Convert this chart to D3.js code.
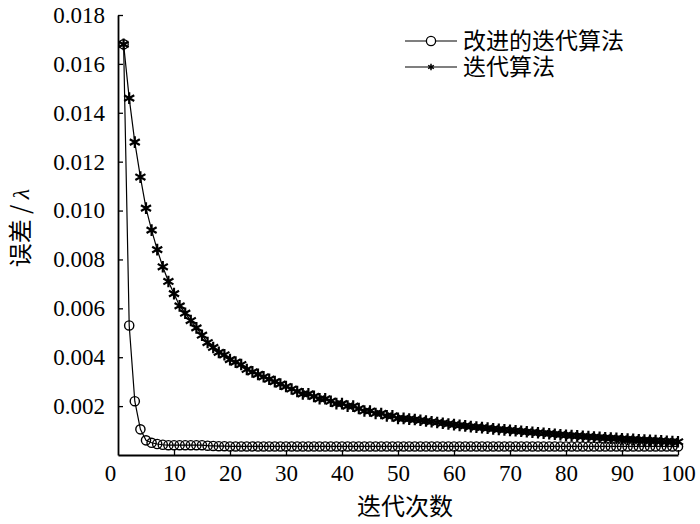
<!DOCTYPE html>
<html>
<head>
<meta charset="utf-8">
<script src="https://cdn.jsdelivr.net/npm/d3@7"></script>
<style>
  body { margin: 0; background: #fff; }
  svg { display: block; }
</style>
</head>
<body>
<div id="chart"></div>
<script>
// iteration numbers 1..100
var iterations = [
  1,2,3,4,5,6,7,8,9,10,11,12,13,14,15,16,17,18,19,20,
  21,22,23,24,25,26,27,28,29,30,31,32,33,34,35,36,37,38,39,40,
  41,42,43,44,45,46,47,48,49,50,51,52,53,54,55,56,57,58,59,60,
  61,62,63,64,65,66,67,68,69,70,71,72,73,74,75,76,77,78,79,80,
  81,82,83,84,85,86,87,88,89,90,91,92,93,94,95,96,97,98,99,100
];

// 改进的迭代算法 (circles)
var improvedErr = [
  0.0168,0.0053,0.0022,0.00105,0.0006,0.0005,0.00045,0.00042,0.0004,0.0004,
  0.0004,0.0004,0.0004,0.0004,0.0004,0.00038,0.00037,0.00036,0.00036,0.00035,
  0.00035,0.00035,0.00035,0.00035,0.00035,0.00035,0.00035,0.00035,0.00035,0.00035,
  0.00035,0.00035,0.00035,0.00035,0.00035,0.00035,0.00035,0.00035,0.00035,0.00035,
  0.00035,0.00035,0.00035,0.00035,0.00035,0.00035,0.00035,0.00035,0.00035,0.00035,
  0.00035,0.00035,0.00035,0.00035,0.00035,0.00035,0.00035,0.00035,0.00035,0.00035,
  0.00035,0.00035,0.00035,0.00035,0.00035,0.00035,0.00035,0.00035,0.00035,0.00035,
  0.00035,0.00035,0.00035,0.00035,0.00035,0.00035,0.00035,0.00035,0.00035,0.00035,
  0.00035,0.00035,0.00035,0.00035,0.00035,0.00035,0.00035,0.00035,0.00035,0.00035,
  0.00035,0.00035,0.00035,0.00035,0.00035,0.00035,0.00035,0.00035,0.00035,0.00035
];

// 迭代算法 (asterisks)
var plainErr = [
  0.0168,0.0146,0.0128,0.01137,0.0101,0.0092,0.0084,0.0077,0.0071,0.0066,
  0.0061,0.0058,0.0055,0.0052,0.0049,0.0046,0.0044,0.0042,0.0041,0.0039,
  0.0038,0.0037,0.0035,0.0034,0.0033,0.0032,0.0031,0.0030,0.0029,0.0028,
  0.0027,0.0026,0.0025,0.0025,0.0024,0.0023,0.0023,0.0022,0.0021,0.0021,
  0.0020,0.0020,0.0019,0.0018,0.0018,0.0017,0.0017,0.0016,0.0016,0.0015,
  0.0015,0.00147,0.00145,0.00142,0.00139,0.00136,0.00133,0.0013,0.00127,0.00124,
  0.00121,0.00119,0.00116,0.00114,0.00112,0.0011,0.00107,0.00105,0.00103,0.00101,
  0.00099,0.00097,0.00095,0.00093,0.00091,0.00089,0.00087,0.00085,0.00083,0.00081,
  0.00079,0.00078,0.00076,0.00075,0.00073,0.00072,0.0007,0.00069,0.00068,0.00066,
  0.00065,0.00064,0.00062,0.00061,0.0006,0.00059,0.00058,0.00056,0.00055,0.00054
];

var xTicks = [0,10,20,30,40,50,60,70,80,90,100];
var yTicks = [0.002,0.004,0.006,0.008,0.010,0.012,0.014,0.016,0.018];
var seriesNames = ["改进的迭代算法", "迭代算法"];

var W = 700, H = 524;
var serifFont = "Liberation Serif, Times New Roman, Times, DejaVu Serif, Noto Serif, serif";
var cjkFont = "Noto Sans CJK SC, sans-serif";

var svg = d3.select("#chart").append("svg")
    .attr("width", W)
    .attr("height", H);

var x = d3.scaleLinear().domain([0, 100]).range([118, 678]);
var y = d3.scaleLinear().domain([0, 0.018]).range([455, 15]);

// axes (ticks point inward)
var xAxis = svg.append("g")
    .attr("transform", "translate(0," + y(0) + ")")
    .call(d3.axisBottom(x).tickValues(xTicks).tickSize(-5).tickPadding(10).tickSizeOuter(0));
var yAxis = svg.append("g")
    .attr("transform", "translate(" + x(0) + ",0)")
    .call(d3.axisLeft(y).tickValues(yTicks).tickFormat(d3.format(".3f")).tickSize(-5).tickPadding(13).tickSizeOuter(0));

[xAxis, yAxis].forEach(function (a) {
    a.attr("font-family", serifFont).attr("font-size", 23);
    a.select(".domain").attr("stroke", "#000").attr("stroke-width", 1.8);
    a.selectAll(".tick line").attr("stroke", "#000").attr("stroke-width", 1.3);
    a.selectAll("text").attr("fill", "#000")
        .attr("font-family", serifFont)
        .style("font-family", serifFont);
});
// origin label sits a bit to the left of the corner
xAxis.selectAll(".tick").filter(function (d) { return d === 0; })
    .select("text").attr("dx", -8);
xAxis.selectAll(".tick").filter(function (d) { return d === 0; })
    .select("line").remove();

// lines
var line = d3.line()
    .x(function (d) { return x(d[0]); })
    .y(function (d) { return y(d[1]); });

var improvedPts = iterations.map(function (v, i) { return [v, improvedErr[i]]; });
var plainPts = iterations.map(function (v, i) { return [v, plainErr[i]]; });

svg.append("path").datum(plainPts)
    .attr("d", line).attr("fill", "none").attr("stroke", "#000").attr("stroke-width", 1.2);
svg.append("path").datum(improvedPts)
    .attr("d", line).attr("fill", "none").attr("stroke", "#000").attr("stroke-width", 1.2);

// markers
var astType = d3.symbolAsterisk || d3.symbolCross;
var ast = d3.symbol().type(astType).size(95);

svg.append("g").selectAll("path")
    .data(plainPts)
    .enter().append("path")
    .attr("transform", function (d) { return "translate(" + x(d[0]) + "," + y(d[1]) + ")"; })
    .attr("d", ast)
    .attr("fill", "#000")
    .attr("stroke", "#000")
    .attr("stroke-width", 2.2);

svg.append("g").selectAll("circle")
    .data(improvedPts)
    .enter().append("circle")
    .attr("cx", function (d) { return x(d[0]); })
    .attr("cy", function (d) { return y(d[1]); })
    .attr("r", 4.6)
    .attr("fill", "none")
    .attr("stroke", "#000")
    .attr("stroke-width", 1.4);

// legend
var legend = svg.append("g");
seriesNames.forEach(function (name, i) {
    var ly = 41 + i * 26;
    legend.append("line")
        .attr("x1", 405).attr("x2", 457).attr("y1", ly).attr("y2", ly)
        .attr("stroke", "#000").attr("stroke-width", 1.2);
    if (i === 0) {
        legend.append("circle").attr("cx", 431).attr("cy", ly).attr("r", 4.6)
            .attr("fill", "#fff").attr("stroke", "#000").attr("stroke-width", 1.3);
    } else {
        legend.append("path").attr("transform", "translate(431," + ly + ")")
            .attr("d", d3.symbol().type(astType).size(30))
            .attr("fill", "#000").attr("stroke", "#000").attr("stroke-width", 1.5);
    }
    legend.append("text")
        .attr("x", 463).attr("y", ly + 8)
        .style("font-family", cjkFont)
        .attr("font-size", 23)
        .text(name);
});

// axis titles
svg.append("text")
    .attr("x", 405).attr("y", 515)
    .attr("text-anchor", "middle")
    .style("font-family", cjkFont)
    .attr("font-size", 24)
    .text("迭代次数");

var yTitle = svg.append("text")
    .attr("transform", "translate(29,228) rotate(-90)")
    .attr("text-anchor", "middle")
    .style("font-family", cjkFont)
    .attr("font-size", 24);
yTitle.append("tspan").text("误差 / ");
yTitle.append("tspan").style("font-family", serifFont).attr("font-style", "italic").text("λ");
</script>
</body>
</html>
